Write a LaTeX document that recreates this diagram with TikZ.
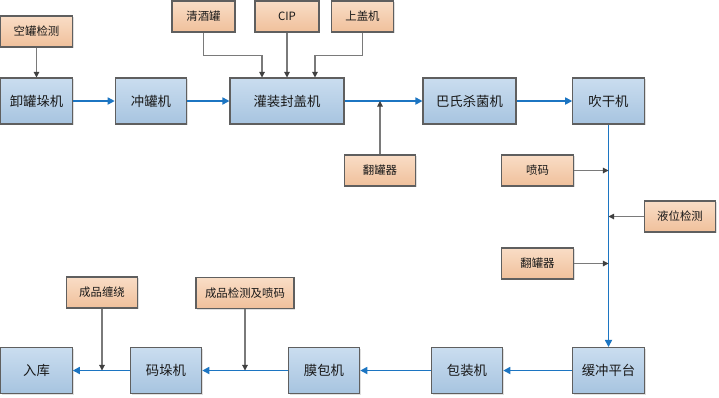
\documentclass[tikz,border=0pt]{standalone}
\usepackage{fontspec}
\setmainfont{Noto Sans CJK SC}
\usepackage{tikz}
\usetikzlibrary{arrows.meta,shadows}
\definecolor{procTop}{HTML}{CADDEF}
\definecolor{procBot}{HTML}{A7C4E0}
\definecolor{auxTop}{HTML}{F9DDC6}
\definecolor{auxBot}{HTML}{F0C09B}
\definecolor{frame}{HTML}{5F5F5F}
\definecolor{flow}{HTML}{1C75C2}
\definecolor{feedline}{HTML}{7A7A7A}
\definecolor{feedhead}{HTML}{404040}

\begin{document}
\begin{tikzpicture}[
    x=0.02cm, y=-0.02cm,
    machine/.style={rectangle, draw=frame, line width=0.6pt, top color=procTop, bottom color=procBot, minimum width=1.43cm, minimum height=0.92cm, inner sep=0pt, align=center, text=black!90, font=\fontsize{7.6}{9}\selectfont, drop shadow={shadow xshift=0.8pt, shadow yshift=-0.8pt, opacity=0.25}},
    station/.style={rectangle, draw=frame, line width=0.6pt, top color=auxTop, bottom color=auxBot, minimum width=1.43cm, minimum height=0.62cm, inner sep=0pt, align=center, text=black!90, font=\fontsize{6.5}{8}\selectfont, drop shadow={shadow xshift=0.8pt, shadow yshift=-0.8pt, opacity=0.25}},
    flowarrow/.style={-{Triangle[length=4pt, width=4pt]}, line width=0.9pt, color=flow},
    feed/.style={-{Triangle[length=3.2pt, width=3.2pt, color=feedhead]}, line width=0.6pt, color=feedline}
]
    \useasboundingbox (0,0) rectangle (719,397);

    % upper line
    \node[machine] (xie) at (36.5,101) {卸罐垛机};
    \node[machine] (chong) at (151,101) {冲罐机};
    \node[machine, minimum width=2.28cm] (guan) at (287,101) {灌装封盖机};
    \node[machine, minimum width=1.86cm] (bashi) at (469.5,101) {巴氏杀菌机};
    \node[machine] (chui) at (608.5,101) {吹干机};

    % lower line
    \node[machine] (huan) at (608.5,370.5) {缓冲平台};
    \node[machine] (bao) at (467,370.5) {包装机};
    \node[machine] (mo) at (324,370.5) {膜包机};
    \node[machine] (ma) at (166,370.5) {码垛机};
    \node[machine] (ru) at (36.5,370.5) {入库};

    % side stations
    \node[station] (kong) at (36.5,31.5) {空罐检测};
    \node[station, minimum width=1.26cm] (qing) at (203.5,16.5) {清酒罐};
    \node[station, minimum width=1.28cm] (cip) at (287,16.5) {CIP};
    \node[station, minimum width=1.24cm] (shang) at (362.5,16.5) {上盖机};
    \node[station] (fan1) at (380,170.5) {翻罐器};
    \node[station] (pen) at (537.5,170.5) {喷码};
    \node[station] (ye) at (680,216.5) {液位检测};
    \node[station] (fan2) at (537.5,263.5) {翻罐器};
    \node[station] (chan) at (102,292.5) {成品缠绕};
    \node[station, minimum width=1.96cm] (jian) at (245,293) {成品检测及喷码};

    % main flow
    \draw[flowarrow] (xie) -- (chong);
    \draw[flowarrow] (chong) -- (guan);
    \draw[flowarrow] (guan) -- (bashi);
    \draw[flowarrow] (bashi) -- (chui);
    \draw[flowarrow] (chui) -- (huan);
    \draw[flowarrow] (huan) -- (bao);
    \draw[flowarrow] (bao) -- (mo);
    \draw[flowarrow] (mo) -- (ma);
    \draw[flowarrow] (ma) -- (ru);

    % feeds
    \draw[feed] (kong) -- (xie);
    \draw[feed] (qing.south) -- ++(0,23) -| ([xshift=-0.5cm]guan.north);
    \draw[feed] (cip) -- (guan);
    \draw[feed] (shang.south) -- ++(0,23) -| ([xshift=0.56cm]guan.north);
    \draw[feed] (fan1) -- (fan1 |- guan.east);
    \draw[feed] (pen) -- (pen -| chui.south);
    \draw[feed] (ye) -- (ye -| chui.south);
    \draw[feed] (fan2) -- (fan2 -| chui.south);
    \draw[feed] (chan) -- (chan |- ru.east);
    \draw[feed] (jian) -- (jian |- ma.west);
\end{tikzpicture}
\end{document}
